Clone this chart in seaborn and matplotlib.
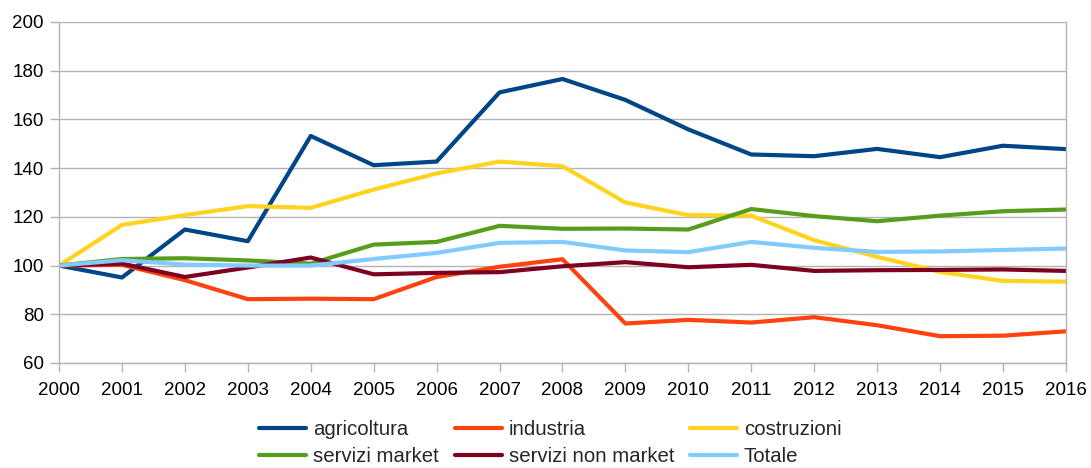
#!/usr/bin/env python3

import matplotlib

matplotlib.use("Agg")
import matplotlib.pyplot as plt
import pandas as pd
import seaborn as sns

years = list(range(2000, 2017))

agricoltura = [100, 95.1, 114.8, 110.0, 153.2, 141.2, 142.7, 171.1, 176.6,
               168.0, 155.9, 145.6, 144.9, 147.9, 144.5, 149.2, 147.8]
industria = [100, 100.3, 94.0, 86.2, 86.4, 86.2, 95.3, 99.5, 102.6,
             76.2, 77.7, 76.6, 78.8, 75.5, 71.0, 71.2, 73.0]
costruzioni = [100, 116.7, 120.7, 124.4, 123.7, 131.2, 137.8, 142.7, 140.8,
               125.9, 120.7, 120.5, 110.4, 103.6, 97.4, 93.7, 93.4]
servizi_market = [100, 102.7, 103.0, 102.1, 100.8, 108.6, 109.7, 116.3, 115.1,
                  115.2, 114.8, 123.2, 120.3, 118.2, 120.5, 122.3, 123.0]
servizi_non_market = [100, 100.8, 95.3, 99.2, 103.3, 96.4, 97.0, 97.3, 99.7,
                      101.4, 99.3, 100.3, 97.8, 98.1, 98.2, 98.4, 97.8]
totale = [100, 102.2, 100.4, 100.0, 100.0, 102.7, 105.2, 109.3, 109.7,
          106.2, 105.5, 109.7, 107.3, 105.6, 105.8, 106.4, 107.0]

series_names = ["agricoltura", "industria", "costruzioni",
                "servizi market", "servizi non market", "Totale"]
series_values = [agricoltura, industria, costruzioni,
                 servizi_market, servizi_non_market, totale]
colors = ["#004586", "#ff420e", "#ffd320", "#579d1c", "#7e0021", "#83caff"]


def main():
    data = pd.concat(
        [pd.DataFrame({"anno": years, "valore": vals, "settore": name})
         for name, vals in zip(series_names, series_values)]
    )

    sns.set_theme(style="white")
    plt.rcParams["font.family"] = ["Liberation Sans", "DejaVu Sans"]

    fig = plt.figure(figsize=(10.91, 4.68), dpi=100)
    ax = fig.add_axes([0.0541, 0.2244, 0.9229, 0.7286])

    sns.lineplot(data=data, x="anno", y="valore", hue="settore",
                 hue_order=series_names, palette=colors, linewidth=3,
                 ax=ax, legend=True)

    ax.set_xlim(2000, 2016)
    ax.set_ylim(60, 200)
    ax.set_xticks(years)
    ax.set_yticks(range(60, 201, 20))
    ax.set_xlabel("")
    ax.set_ylabel("")

    grid_c = "#b3b3b3"
    ax.grid(axis="y", color=grid_c, linewidth=1)
    ax.set_axisbelow(True)
    for side in ["left", "right", "bottom"]:
        ax.spines[side].set_color(grid_c)
        ax.spines[side].set_linewidth(1)
    ax.spines["top"].set_visible(False)
    ax.tick_params(axis="both", which="major", direction="out", length=6.5,
                   width=1, color=grid_c, labelsize=13.5, labelcolor="black")
    ax.tick_params(axis="y", pad=4.5, left=True)
    ax.tick_params(axis="x", pad=7, bottom=True)

    # legend is filled column by column, so reorder to read row by row
    handles, labels = ax.get_legend_handles_labels()
    order = [0, 3, 1, 4, 2, 5]
    ax.legend([handles[i] for i in order], [labels[i] for i in order],
              ncol=3, loc="upper center", bbox_to_anchor=(0.488, -0.143),
              frameon=False, fontsize=14.7, handlelength=2.3,
              handletextpad=0.34, columnspacing=0.78, labelspacing=0.42,
              borderaxespad=0.0)

    fig.savefig("out.png", dpi=100)


if __name__ == "__main__":
    main()
